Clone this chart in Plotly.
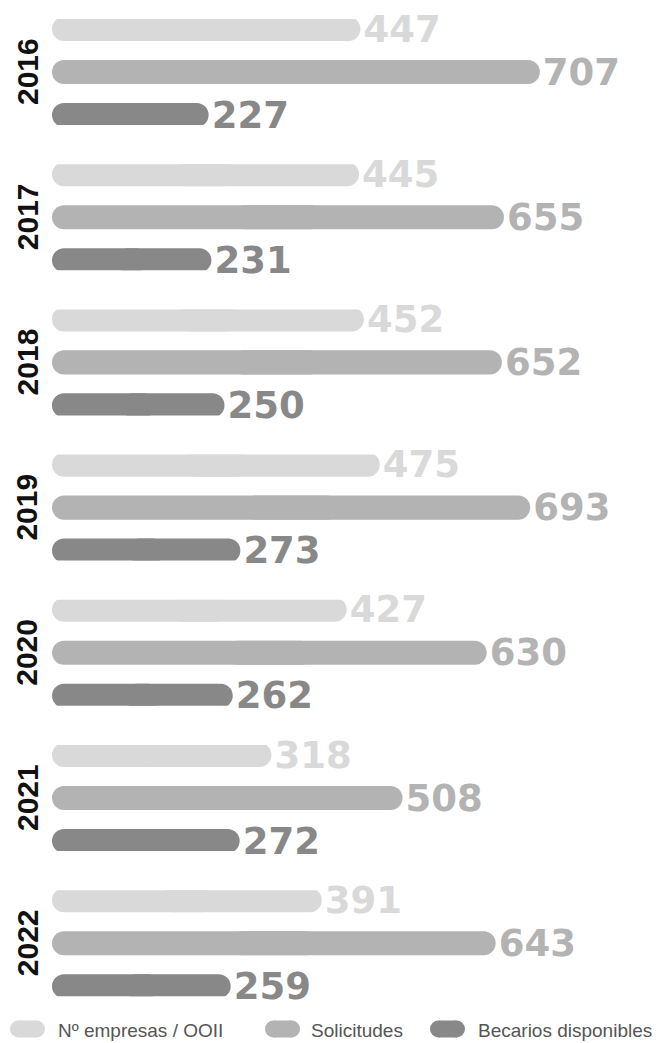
import plotly.graph_objects as go
from plotly.subplots import make_subplots

years = ["2016", "2017", "2018", "2019", "2020", "2021", "2022"]
series = ["Nº empresas / OOII", "Solicitudes", "Becarios disponibles"]
empresas = [447, 445, 452, 475, 427, 318, 391]
solicitudes = [707, 655, 652, 693, 630, 508, 643]
becarios = [227, 231, 250, 273, 262, 272, 259]

COLORS = ["#d9d9d9", "#b3b3b3", "#888888"]
FONT = "Liberation Sans, Arial, sans-serif"
NUM_FONT = "DejaVu Sans, sans-serif"

# page body has an 8px margin, so the figure is drawn 8px in from the corner
W, H = 654, 1035
ROW_STEP = 145.2   # px between year groups
BAR_STEP = 43.0    # px between bars in a group
FIRST_C = 21.0     # px, centre of the very first bar
PAD = 10.0         # px of band above/below the outer bars
X0_PX = 44.0       # px where value 0 sits
PX_PER_UNIT = 0.69

xmin = -X0_PX / PX_PER_UNIT
xmax = xmin + W / PX_PER_UNIT

fig = make_subplots(rows=len(years), cols=1)

for k, year in enumerate(years):
    n = k + 1
    vals = [empresas[k], solicitudes[k], becarios[k]]

    # each bar is two overlapping halves so that both ends come out rounded
    fig.add_trace(go.Bar(
        y=series, x=[-0.6 * v for v in vals], base=[0.6 * v for v in vals],
        orientation="h", width=0.56,
        marker=dict(color=COLORS, cornerradius="50%", line=dict(width=0)),
        showlegend=False, hoverinfo="skip"
    ), row=n, col=1)
    fig.add_trace(go.Bar(
        y=series, x=[0.6 * v for v in vals], base=[0.4 * v for v in vals],
        orientation="h", width=0.56,
        marker=dict(color=COLORS, cornerradius="50%", line=dict(width=0)),
        text=[str(v) for v in vals], textposition="outside",
        outsidetextfont=dict(family=NUM_FONT, size=37, color=COLORS, weight="bold"),
        constraintext="none", cliponaxis=False,
        showlegend=False, hoverinfo="skip"
    ), row=n, col=1)

    c0 = FIRST_C + ROW_STEP * k
    top = c0 - PAD
    bottom = c0 + 2 * BAR_STEP + PAD
    m = PAD / BAR_STEP
    yname = "yaxis" if n == 1 else f"yaxis{n}"
    xname = "xaxis" if n == 1 else f"xaxis{n}"
    fig.update_layout({
        yname: dict(domain=[1 - bottom / H, 1 - top / H], range=[2 + m, -m],
                    visible=False, fixedrange=True),
        xname: dict(domain=[0, 1], range=[xmin, xmax], visible=False),
    })

    fig.add_annotation(
        text=f"<b>{year}</b>", textangle=-90, showarrow=False,
        xref="paper", x=19 / W, xanchor="center",
        yref="y" if n == 1 else f"y{n}", y=1, yanchor="middle",
        font=dict(family=FONT, size=30, color="#111111")
    )

# legend drawn by hand: pill swatch + label
LEG_Y = 1021.0
LEG_R = 8.5
leg_pills = [(2, 37), (257, 292), (422, 457)]
leg_text_x = [48, 301, 468]


def px(x):
    return x / W


def py(y):
    return 1 - y / H


for (a, b), tx, name, c in zip(leg_pills, leg_text_x, series, COLORS):
    fig.add_shape(type="rect", xref="paper", yref="paper",
                  x0=px(a + LEG_R), x1=px(b - LEG_R),
                  y0=py(LEG_Y + LEG_R), y1=py(LEG_Y - LEG_R),
                  fillcolor=c, line=dict(width=0))
    for cx in (a + LEG_R, b - LEG_R):
        fig.add_shape(type="circle", xref="paper", yref="paper",
                      x0=px(cx - LEG_R), x1=px(cx + LEG_R),
                      y0=py(LEG_Y + LEG_R), y1=py(LEG_Y - LEG_R),
                      fillcolor=c, line=dict(width=0))
    fig.add_annotation(
        text=name, showarrow=False, xref="paper", yref="paper",
        x=px(tx), xanchor="left", y=py(LEG_Y + 1), yanchor="middle",
        font=dict(family=FONT, size=19, color="#555555")
    )

fig.update_layout(
    width=W, height=H,
    margin=dict(l=0, r=0, t=0, b=0),
    barmode="overlay",
    paper_bgcolor="white",
    plot_bgcolor="white",
    showlegend=False,
)

fig.write_html("out.html")
